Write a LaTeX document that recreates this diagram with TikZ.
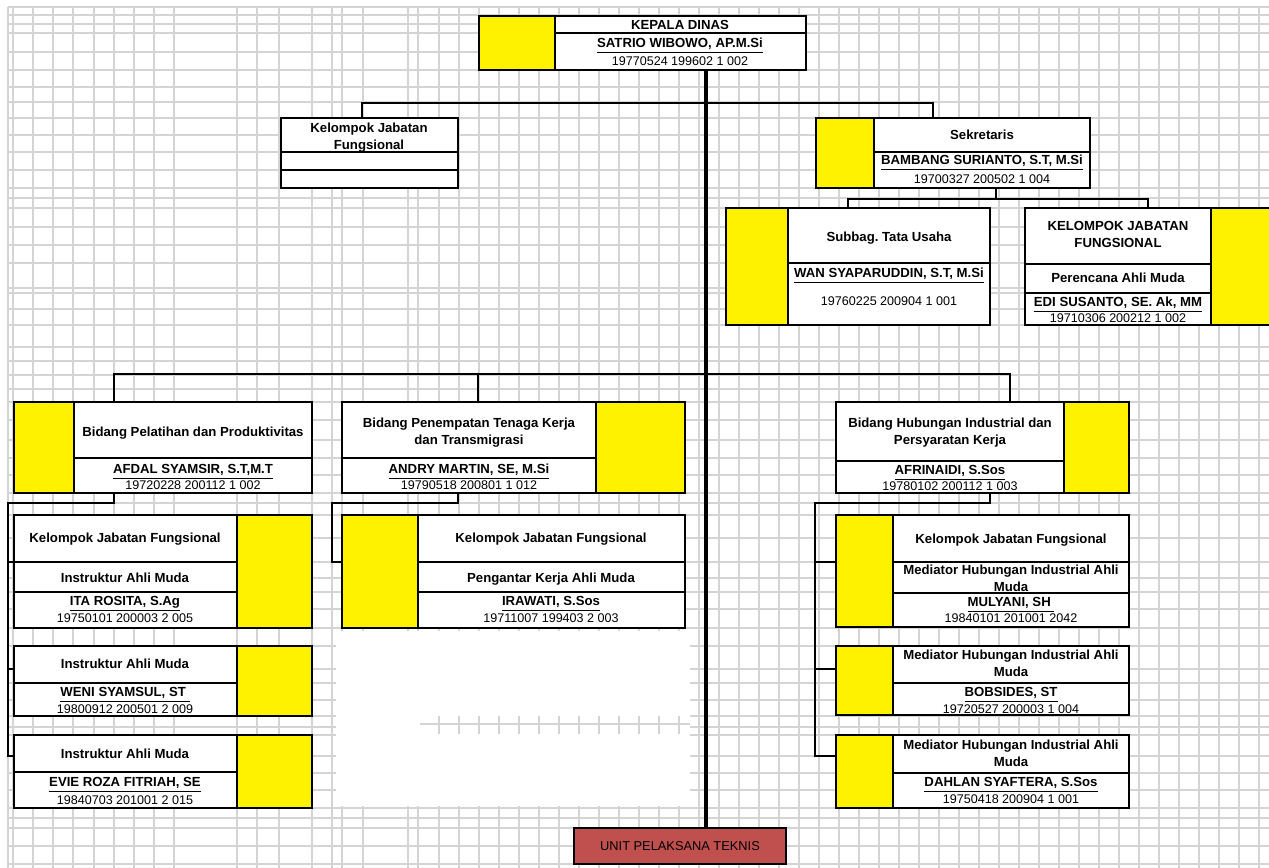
\documentclass[tikz,border=0pt]{standalone}
\usepackage{fontspec}
\setmainfont{Liberation Sans}
\usetikzlibrary{fit}
\definecolor{gridgray}{HTML}{D4D4D4}
\definecolor{unitred}{HTML}{C0504D}
\newcommand\fsB{\fontsize{7.5}{9.6}\selectfont\bfseries}
\newcommand\fsR{\fontsize{7.15}{8.4}\selectfont}
\frenchspacing
\begin{document}
\begin{tikzpicture}[x=0.02cm, y=-0.02cm,
        box/.style={draw, fill=white, line width=0.9pt, inner sep=0pt},
        yel/.style={draw, fill=yellow, line width=0.9pt, inner sep=0pt},
        txt/.style={font=\fsB, inner sep=0pt, align=center, anchor=base, yshift=-2.6pt},
        nip/.style={font=\fsR, inner sep=0pt, anchor=base, yshift=-2.6pt},
        row/.style={line width=0.7pt},
        trunk/.style={line width=2pt},
        link/.style={line width=1.4pt},
        gridline/.style={draw=gridgray, line width=0.75pt}]
    \useasboundingbox (0,0) rectangle (1269,868);
    \fill[white] (0,0) rectangle (1269,868);

    % spreadsheet grid
    \foreach \gx in {8,13,33,53,73,94,114,134,154,174,237,257,279,312,332,342,363,408,418,439,459,479,499,519,...,1259}
        \draw[gridline] (\gx,7) -- (\gx,868);
    \foreach \gy in {7,15,24,33,52,70,87,102,118,135,152,170,188,198,208,227,245,263,288,293,309,325,347,361,375,389,402,420,440,458,475,493,503,515,538,562,578,592,609,628,646,669,683,700,716,727,735,756,773,790,808,818,828,846,864}
        \draw[gridline] (8,\gy) -- (1269,\gy);
    \fill[white] (336,631) rectangle (690,806);
    \draw[gridline] (420,724) -- (690,724);
    \foreach \gx in {439,459,479,499,519,539,559,579,599,619,639,659,679}
        \draw[gridline] (\gx,716) -- (\gx,734);

    % boxes
    \node[yel, fit={(479,16) (555,70)}] (kdY) {};
    \node[box, fit={(555,16) (806,70)}] (kd) {};
    \node[box, fit={(281,118) (458,188)}] (kjf) {};
    \node[yel, fit={(816,118) (874,188)}] (sekY) {};
    \node[box, fit={(874,118) (1090,188)}] (sek) {};
    \node[yel, fit={(726,208) (788,325)}] (tuY) {};
    \node[box, fit={(788,208) (990,325)}] (tu) {};
    \node[box, fit={(1025,208) (1211,325)}] (kjfR) {};
    \node[yel, fit={(1211,208) (1274,325)}] (kjfRY) {};
    \node[yel, fit={(14,402) (74,493)}] (pelY) {};
    \node[box, fit={(74,402) (312,493)}] (pel) {};
    \node[box, fit={(342,402) (596,493)}] (pen) {};
    \node[yel, fit={(596,402) (685,493)}] (penY) {};
    \node[box, fit={(836,402) (1064,493)}] (hub) {};
    \node[yel, fit={(1064,402) (1129,493)}] (hubY) {};
    \node[box, fit={(14,515) (237,628)}] (kjfA) {};
    \node[yel, fit={(237,515) (312,628)}] (kjfAY) {};
    \node[box, fit={(14,646) (237,716)}] (weni) {};
    \node[yel, fit={(237,646) (312,716)}] (weniY) {};
    \node[box, fit={(14,735) (237,808)}] (evie) {};
    \node[yel, fit={(237,735) (312,808)}] (evieY) {};
    \node[yel, fit={(342,515) (418,628)}] (kjfBY) {};
    \node[box, fit={(418,515) (685,628)}] (kjfB) {};
    \node[yel, fit={(836,515) (893,627)}] (kjfCY) {};
    \node[box, fit={(893,515) (1129,627)}] (kjfC) {};
    \node[yel, fit={(836,646) (893,715)}] (bobY) {};
    \node[box, fit={(893,646) (1129,715)}] (bob) {};
    \node[yel, fit={(836,735) (893,808)}] (dahY) {};
    \node[box, fit={(893,735) (1129,808)}] (dah) {};
    \node[draw, fill=unitred, line width=0.9pt, inner sep=0pt, fit={(574,828) (786,864)}] (upt) {};

    % connectors
    \draw[trunk] (706,0 |- kd.south) -- (706,0 |- upt.north);
    \draw[link] (362,0 |- kjf.north) -- (362,103) -- (933,103) -- (933,0 |- sek.north);
    \draw[link] (996,0 |- sek.south) -- (996,199);
    \draw[link] (848,0 |- tu.north) -- (848,199) -- (1148,199) -- (1148,0 |- kjfR.north);
    \draw[link] (114,0 |- pel.north) -- (114,374) -- (1010,374) -- (1010,0 |- hub.north);
    \draw[link] (478,374) -- (478,0 |- pen.north);
    \draw[link] (114,0 |- pel.south) -- (114,503) -- (8,503) -- (8,756) -- (evie.west |- 0,756);
    \draw[link] (8,562) -- (kjfA.west |- 0,562);
    \draw[link] (8,669) -- (weni.west |- 0,669);
    \draw[link] (458,0 |- pen.south) -- (458,503) -- (332,503) -- (332,562) -- (kjfBY.west |- 0,562);
    \draw[link] (990,0 |- hub.south) -- (990,503) -- (815,503) -- (815,756) -- (dahY.west |- 0,756);
    \draw[link] (815,562) -- (kjfCY.west |- 0,562);
    \draw[link] (815,669) -- (bobY.west |- 0,669);

    % row lines
    \draw[row] (555,33) -- (806,33);
    \draw[row] (281,152) -- (458,152);
    \draw[row] (281,170) -- (458,170);
    \draw[row] (874,152) -- (1090,152);
    \draw[row] (788,263) -- (990,263);
    \draw[row] (1025,264) -- (1211,264);
    \draw[row] (1025,293) -- (1211,293);
    \draw[row] (74,458) -- (312,458);
    \draw[row] (342,458) -- (596,458);
    \draw[row] (836,461) -- (1064,461);
    \draw[row] (14,562) -- (237,562);
    \draw[row] (14,592) -- (237,592);
    \draw[row] (14,683) -- (237,683);
    \draw[row] (14,772) -- (237,772);
    \draw[row] (418,562) -- (685,562);
    \draw[row] (418,592) -- (685,592);
    \draw[row] (893,562) -- (1129,562);
    \draw[row] (893,593) -- (1129,593);
    \draw[row] (893,683) -- (1129,683);
    \draw[row] (893,773) -- (1129,773);

    % texts
    \node[txt] (kdT) at (680,25) {KEPALA DINAS};
    \node[txt] (kdN) at (680,43) {\underline{SATRIO WIBOWO, AP.M.Si}};
    \node[nip] (kdP) at (680,61) {19770524 199602 1 002};
    \node[txt] (kjfT) at (369,145) {Kelompok Jabatan\\Fungsional};
    \node[txt] (sekT) at (982,135) {Sekretaris};
    \node[txt] (sekN) at (982,160) {\underline{BAMBANG SURIANTO, S.T, M.Si}};
    \node[nip] (sekP) at (982,179) {19700327 200502 1 004};
    \node[txt] (tuT) at (889,237) {Subbag. Tata Usaha};
    \node[txt] (tuN) at (889,273) {\underline{WAN SYAPARUDDIN, S.T, M.Si}};
    \node[nip] (tuP) at (889,301) {19760225 200904 1 001};
    \node[txt] (kjfRT) at (1118,243) {KELOMPOK JABATAN\\FUNGSIONAL};
    \node[txt] (kjfRJ) at (1118,278) {Perencana Ahli Muda};
    \node[txt] (kjfRN) at (1118,302) {\underline{EDI SUSANTO, SE. Ak, MM}};
    \node[nip] (kjfRP) at (1118,318) {19710306 200212 1 002};
    \node[txt] (pelT) at (193,432) {Bidang Pelatihan dan Produktivitas};
    \node[txt] (pelN) at (193,469) {\underline{AFDAL SYAMSIR, S.T,M.T}};
    \node[nip] (pelP) at (193,485) {19720228 200112 1 002};
    \node[txt] (penT) at (469,440) {Bidang Penempatan Tenaga Kerja\\dan Transmigrasi};
    \node[txt] (penN) at (469,469) {\underline{ANDRY MARTIN, SE, M.Si}};
    \node[nip] (penP) at (469,485) {19790518 200801 1 012};
    \node[txt] (hubT) at (950,440) {Bidang Hubungan Industrial dan\\Persyaratan Kerja};
    \node[txt] (hubN) at (950,470) {\underline{AFRINAIDI, S.Sos}};
    \node[nip] (hubP) at (950,486) {19780102 200112 1 003};
    \node[txt] (kjfAT) at (125,538) {Kelompok Jabatan Fungsional};
    \node[txt] (kjfAJ) at (125,578) {Instruktur Ahli Muda};
    \node[txt] (kjfAN) at (125,601) {\underline{ITA ROSITA, S.Ag}};
    \node[nip] (kjfAP) at (125,618) {19750101 200003 2 005};
    \node[txt] (weniJ) at (125,664) {Instruktur Ahli Muda};
    \node[txt] (weniN) at (125,692) {\underline{WENI SYAMSUL, ST\ }};
    \node[nip] (weniP) at (125,709) {19800912 200501 2 009};
    \node[txt] (evieJ) at (125,754) {Instruktur Ahli Muda};
    \node[txt] (evieN) at (125,782) {\underline{EVIE ROZA FITRIAH, SE}};
    \node[nip] (evieP) at (125,800) {19840703 201001 2 015};
    \node[txt] (kjfBT) at (551,538) {Kelompok Jabatan Fungsional};
    \node[txt] (kjfBJ) at (551,578) {Pengantar Kerja Ahli Muda};
    \node[txt] (kjfBN) at (551,601) {\underline{IRAWATI, S.Sos}};
    \node[nip] (kjfBP) at (551,618) {19711007 199403 2 003};
    \node[txt] (kjfCT) at (1011,539) {Kelompok Jabatan Fungsional};
    \node[txt] (kjfCJ) at (1011,587) {Mediator Hubungan Industrial Ahli\\Muda};
    \node[txt] (kjfCN) at (1011,602) {\underline{MULYANI, SH\ }};
    \node[nip] (kjfCP) at (1011,618) {19840101 201001 2042};
    \node[txt] (bobJ) at (1011,672) {Mediator Hubungan Industrial Ahli\\Muda};
    \node[txt] (bobN) at (1011,692) {\underline{BOBSIDES, ST}};
    \node[nip] (bobP) at (1011,709) {19720527 200003 1 004};
    \node[txt] (dahJ) at (1011,762) {Mediator Hubungan Industrial Ahli\\Muda};
    \node[txt] (dahN) at (1011,782) {\underline{DAHLAN SYAFTERA, S.Sos}};
    \node[nip] (dahP) at (1011,799) {19750418 200904 1 001};
    \node[font=\fontsize{7.3}{8}\selectfont, inner sep=0pt] (uptT) at (680,846) {UNIT PELAKSANA TEKNIS};
\end{tikzpicture}
\end{document}
